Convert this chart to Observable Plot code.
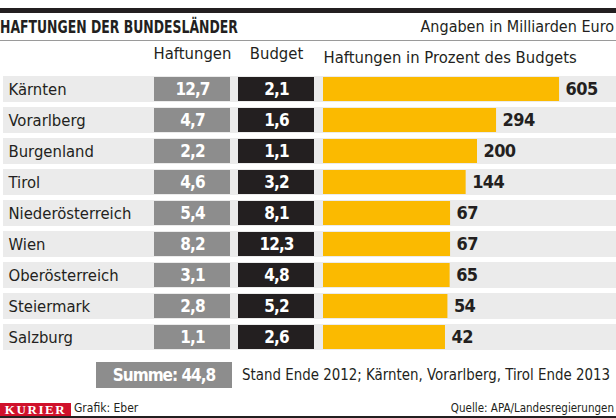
<!DOCTYPE html>
<html><head><meta charset="utf-8">
<script src="https://cdn.jsdelivr.net/npm/d3@7"></script>
<script src="https://cdn.jsdelivr.net/npm/@observablehq/plot@0.6"></script>
<style>
body{margin:0;width:616px;height:418px;position:relative;overflow:hidden;background:#fff;font-family:"Liberation Sans Narrow","DejaVu Sans Condensed",sans-serif;color:#231f20}
.abs{position:absolute;white-space:nowrap}
</style></head><body>
<div class="abs" style="left:0;top:8px;width:616px;height:5px;background:#231f20"></div>
<div class="abs" style="left:0;top:16px;font-weight:bold;font-size:17.5px;line-height:22px;transform:scaleX(0.79);transform-origin:0 0">HAFTUNGEN DER BUNDESLÄNDER</div>
<div class="abs" style="right:2px;top:16px;font-size:16px;line-height:22px">Angaben in Milliarden Euro</div>
<div class="abs" style="left:0;top:40px;width:616px;height:1px;background:#9a9a9a"></div>
<div id="chart" class="abs" style="left:0;top:40px"></div>
<div id="boxes" class="abs" style="left:154px;top:40px"></div>
<div id="summe" class="abs" style="left:96px;top:362px;width:136px;height:26px;background:#8d8d8d;color:#fff;font-weight:bold;font-size:17px;letter-spacing:-1px;line-height:26px;text-align:center"></div>
<div class="abs" style="left:242px;top:364px;font-size:16.2px;line-height:22px;transform:scaleX(0.92);transform-origin:0 0">Stand Ende 2012; Kärnten, Vorarlberg, Tirol Ende 2013</div>
<div class="abs" style="left:0;top:403px;width:71px;height:13px;background:#d0112b;color:#fff;font-family:'Liberation Serif',serif;font-weight:bold;font-size:13px;line-height:13px;letter-spacing:1.6px;text-align:center">KURIER</div>
<div class="abs" style="left:74px;top:401px;font-size:12px;line-height:15px">Grafik: Eber</div>
<div class="abs" style="right:2px;top:401px;font-size:11.5px;line-height:15px">Quelle: APA/Landesregierungen</div>
<div class="abs" style="left:0;top:416px;width:616px;height:2px;background:#231f20"></div>
<script>
const laender = ["Kärnten","Vorarlberg","Burgenland","Tirol","Niederösterreich","Wien","Oberösterreich","Steiermark","Salzburg"];
const haftungen = [12.7,4.7,2.2,4.6,5.4,8.2,3.1,2.8,1.1];
const budget = [2.1,1.6,1.1,3.2,8.1,12.3,4.8,5.2,2.6];
const prozent = [605,294,200,144,67,67,65,54,42];
const spalten = ["Haftungen","Budget"];
const prozentTitel = "Haftungen in Prozent des Budgets";

const fmt = v => v.toFixed(1).replace(".", ",");
const rows = laender.map((land, i) => ({land, pct: prozent[i]}));
const cells = laender.flatMap((land, i) => [
  {land, spalte: spalten[0], wert: haftungen[i]},
  {land, spalte: spalten[1], wert: budget[i]}
]);

const pctDomain = [-560, 886];
const yOpts = {domain: laender, paddingInner: 0.15, paddingOuter: 0.075, axis: null};
const font = {fontFamily: "'Liberation Sans Narrow','DejaVu Sans Condensed',sans-serif", fontSize: "16.5px", color: "#231f20", background: "transparent", overflow: "visible"};

const chart = Plot.plot({
  width: 616, height: 316,
  marginTop: 30, marginBottom: 0, marginLeft: 3, marginRight: 0,
  style: font,
  x: {domain: pctDomain, range: [323, 616], axis: null},
  y: yOpts,
  marks: [
    Plot.cell(rows, {y: "land", fill: "#ebebeb"}),
    Plot.barX(rows, {y: "land", x1: pctDomain[0], x2: "pct", fill: "#fbba00", insetTop: 1, insetBottom: 1}),
    Plot.text(rows, {y: "land", text: "land", frameAnchor: "left", textAnchor: "start", dx: 5, fontSize: 16.5, fill: "#231f20"}),
    Plot.text(rows, {x: "pct", y: "land", text: d => String(d.pct), textAnchor: "start", dx: 6, fontSize: 18, fontWeight: "bold", fill: "#231f20"}),
    Plot.text([prozentTitel], {x: pctDomain[0], text: d => d, frameAnchor: "top", textAnchor: "start", dy: -19, fontSize: 16.5, fill: "#231f20"})
  ]
});
chart.querySelectorAll('g[font-weight="bold"] text').forEach(t => t.style.letterSpacing = "-0.6px");
document.getElementById("chart").append(chart);

const boxes = Plot.plot({
  width: 169, height: 316,
  marginTop: 30, marginBottom: 0, marginLeft: 0, marginRight: 8,
  style: font,
  x: {domain: spalten, paddingInner: 0.094, paddingOuter: 0, axis: "top", tickSize: 0, tickPadding: 12, label: null},
  y: yOpts,
  color: {domain: spalten, range: ["#8d8d8d", "#231f20"]},
  marks: [
    Plot.cell(cells, {x: "spalte", y: "land", fill: "spalte", insetTop: 1, insetBottom: 1}),
    Plot.text(cells, {x: "spalte", y: "land", text: d => fmt(d.wert), fill: "#fff", fontWeight: "bold", fontSize: 17})
  ]
});
boxes.querySelectorAll('g[font-weight="bold"] text').forEach(t => t.style.letterSpacing = "-0.9px");
document.getElementById("boxes").append(boxes);

document.getElementById("summe").textContent = "Summe: " + fmt(d3.sum(haftungen));
</script>
</body></html>
